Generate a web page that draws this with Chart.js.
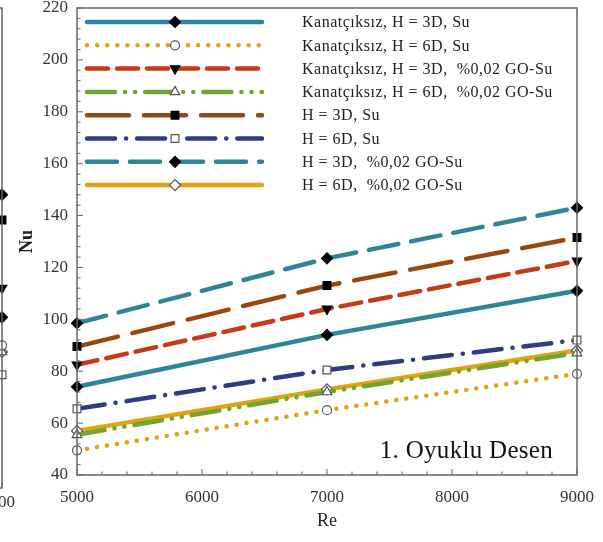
<!DOCTYPE html>
<html>
<head>
<meta charset="utf-8">
<script src="https://cdn.jsdelivr.net/npm/chart.js@4.4.1/dist/chart.umd.min.js"></script>
<style>
  html, body { margin: 0; padding: 0; background: #fff; overflow: hidden; }
  #wrap { width: 603px; height: 542px; position: relative; overflow: hidden; }
  #nuChart { position: absolute; left: 0; top: 0; }
  #prevChart { position: absolute; left: -116px; top: 0; }
</style>
</head>
<body>
<div id="wrap">
  <canvas id="prevChart" width="140" height="542"></canvas>
  <canvas id="nuChart" width="603" height="542"></canvas>
</div>
<script>
// Re values where the points were read
const reValues = [5000, 7000, 9000]

const seriesNames = [
  'Kanatçıksız, H = 3D, Su',
  'Kanatçıksız, H = 6D, Su',
  'Kanatçıksız, H = 3D,  %0,02 GO-Su',
  'Kanatçıksız, H = 6D,  %0,02 GO-Su',
  'H = 3D, Su',
  'H = 6D, Su',
  'H = 3D,  %0,02 GO-Su',
  'H = 6D,  %0,02 GO-Su'
]

// Nu values, panel 1
const nuPlain3DSu = [74, 94, 111]
const nuPlain6DSu = [49.5, 65, 79]
const nuPlain3DGo = [82.5, 104, 122.5]
const nuPlain6DGo = [55.5, 72, 87]
const nuFin3DSu = [89.5, 113, 131.5]
const nuFin6DSu = [65.5, 80.5, 92]
const nuFin3DGo = [98.5, 123.5, 143]
const nuFin6DGo = [57, 73, 88]

// last points of the cut-off panel on the left (Re = 9000)
const prevRe = [9000]
const prevNu = [104, 93.5, 115, 91, 140.5, 82.5, 150, 91]

const xTicks = [5000, 6000, 7000, 8000, 9000]
const yTicks = [40, 60, 80, 100, 120, 140, 160, 180, 200, 220]

const teal = '#2f8597'
const gold = '#e3a20f'
const red = '#c33b17'
const green = '#6ea534'
const brown = '#9a470f'
const navy = '#2e3c80'

const styles = [
  { color: teal, dash: [], marker: 'rectRot', fill: '#000' },
  { color: gold, dash: [0.1, 10], marker: 'circle', fill: '#fff' },
  { color: red, dash: [21, 9], marker: 'triangle', rot: 180, fill: '#000' },
  { color: green, dash: [28, 10, 0.1, 10, 0.1, 10], marker: 'triangle', fill: '#fff' },
  { color: brown, dash: [42, 15], marker: 'rect', fill: '#000' },
  { color: navy, dash: [28, 11, 0.1, 11], marker: 'rect', fill: '#fff' },
  { color: teal, dash: [30, 13], marker: 'rectRot', fill: '#000' },
  { color: gold, dash: [], marker: 'rectRot', fill: '#fff' }
]

const allSeries = [nuPlain3DSu, nuPlain6DSu, nuPlain3DGo, nuPlain6DGo, nuFin3DSu, nuFin6DSu, nuFin3DGo, nuFin6DGo]

const makeDataset = (label, xs, vals, i) => {
  const s = styles[i]
  return {
    label: label,
    data: vals.map((v, k) => ({ x: xs[k], y: v })),
    borderColor: s.color,
    borderWidth: 4.5,
    borderDash: s.dash,
    borderCapStyle: 'round',
    tension: 0,
    clip: false,
    pointStyle: s.marker,
    pointRotation: s.rot || 0,
    pointRadius: s.marker === 'circle' ? 4.5 : 5.5,
    pointBackgroundColor: s.fill,
    pointBorderColor: s.fill === '#000' ? '#000' : '#555',
    pointBorderWidth: 1.2
  }
}

const datasets = allSeries.map((vals, i) => makeDataset(seriesNames[i], reValues, vals, i))
const prevDatasets = prevNu.map((v, i) => makeDataset(seriesNames[i], prevRe, [v], i))

const serif = 'Liberation Serif'

const decor = {
  id: 'decor',
  afterDraw(chart) {
    const ctx = chart.ctx
    const a = chart.chartArea
    const xs = chart.scales.x
    const ys = chart.scales.y
    ctx.save()
    // frame
    ctx.strokeStyle = '#666'
    ctx.lineWidth = 1.5
    ctx.strokeRect(a.left, a.top, a.right - a.left, a.bottom - a.top)
    // inner ticks
    ctx.lineWidth = 1
    for (let v = 5000; v <= 9000; v += 200) {
      const px = xs.getPixelForValue(v)
      const len = v % 1000 === 0 ? 6 : 3.5
      ctx.beginPath(); ctx.moveTo(px, a.bottom); ctx.lineTo(px, a.bottom - len); ctx.stroke()
    }
    for (let v = 40; v <= 220; v += 4) {
      const py = ys.getPixelForValue(v)
      const len = v % 20 === 0 ? 6 : 3.5
      ctx.beginPath(); ctx.moveTo(a.left, py); ctx.lineTo(a.left + len, py); ctx.stroke()
    }
    if (chart.canvas.id === 'nuChart') {
      // legend
      chart.data.datasets.forEach((ds, i) => {
        const y = 22 + i * 23.3
        ctx.save()
        ctx.strokeStyle = ds.borderColor
        ctx.lineWidth = ds.borderWidth
        ctx.lineCap = 'round'
        ctx.setLineDash(ds.borderDash)
        ctx.beginPath(); ctx.moveTo(87, y); ctx.lineTo(262, y); ctx.stroke()
        ctx.setLineDash([])
        ctx.fillStyle = ds.pointBackgroundColor
        ctx.strokeStyle = ds.pointBorderColor
        ctx.lineWidth = ds.pointBorderWidth
        Chart.helpers.drawPoint(ctx, { pointStyle: ds.pointStyle, rotation: ds.pointRotation, radius: ds.pointRadius, borderWidth: ds.pointBorderWidth }, 175, y)
        ctx.restore()
        ctx.fillStyle = '#222'
        ctx.font = '16px "' + serif + '"'
        ctx.letterSpacing = '0.5px'
        ctx.textBaseline = 'middle'
        ctx.textAlign = 'left'
        ctx.fillText(ds.label, 302, y + 1)
      })
      // panel label
      ctx.fillStyle = '#111'
      ctx.font = '25px "' + serif + '"'
      ctx.letterSpacing = '0.3px'
      ctx.textAlign = 'right'
      ctx.textBaseline = 'alphabetic'
      ctx.fillText('1. Oyuklu Desen', a.right - 24, 458)
    }
    ctx.restore()
  }
}

const tickFont = { family: serif, size: 17 }

const ctxN = document.getElementById('nuChart').getContext('2d')
const nuChart = new Chart(ctxN, {
  type: 'line',
  data: { datasets: datasets },
  options: {
    responsive: false,
    animation: false,
    layout: { padding: { left: 0, right: 26, top: 8, bottom: 0 } },
    plugins: { legend: { display: false }, tooltip: { enabled: false } },
    scales: {
      x: {
        type: 'linear',
        min: 5000,
        max: 9000,
        afterBuildTicks: s => { s.ticks = xTicks.map(v => ({ value: v })) },
        afterFit: s => { s.height = 67; s.paddingLeft = 0; s.paddingRight = 0 },
        grid: { display: false, drawTicks: false },
        border: { display: false },
        ticks: { padding: 12, color: '#333', font: tickFont, maxRotation: 0, callback: v => String(v) },
        title: { display: true, text: 'Re', color: '#222', font: { family: serif, size: 18 }, padding: { top: 0, bottom: 10 } }
      },
      y: {
        min: 40,
        max: 220,
        afterBuildTicks: s => { s.ticks = yTicks.map(v => ({ value: v })) },
        afterFit: s => { s.width = 77; s.paddingTop = 0; s.paddingBottom = 0 },
        grid: { display: false, drawTicks: false },
        border: { display: false },
        ticks: { padding: 9, color: '#333', font: tickFont },
        title: { display: true, text: 'Nu', color: '#222', font: { family: serif, size: 18, weight: 'bold' }, padding: { top: 17, bottom: 0 } }
      }
    }
  },
  plugins: [decor]
})

// the neighbouring panel that is cut off at the left edge
const ctxP = document.getElementById('prevChart').getContext('2d')
const prevChart = new Chart(ctxP, {
  type: 'line',
  data: { datasets: prevDatasets },
  options: {
    responsive: false,
    animation: false,
    layout: { padding: { left: 0, right: 22, top: 8, bottom: 0 } },
    plugins: { legend: { display: false }, tooltip: { enabled: false } },
    scales: {
      x: {
        type: 'linear',
        min: 5000,
        max: 9000,
        afterBuildTicks: s => { s.ticks = [{ value: 9000 }] },
        afterFit: s => { s.height = 54 },
        grid: { display: false, drawTicks: false },
        border: { display: false },
        ticks: { padding: 4, labelOffset: -4, color: '#333', font: tickFont, maxRotation: 0, callback: v => String(v) }
      },
      y: {
        display: false,
        min: 40,
        max: 220
      }
    }
  },
  plugins: [decor]
})
</script>
</body>
</html>
